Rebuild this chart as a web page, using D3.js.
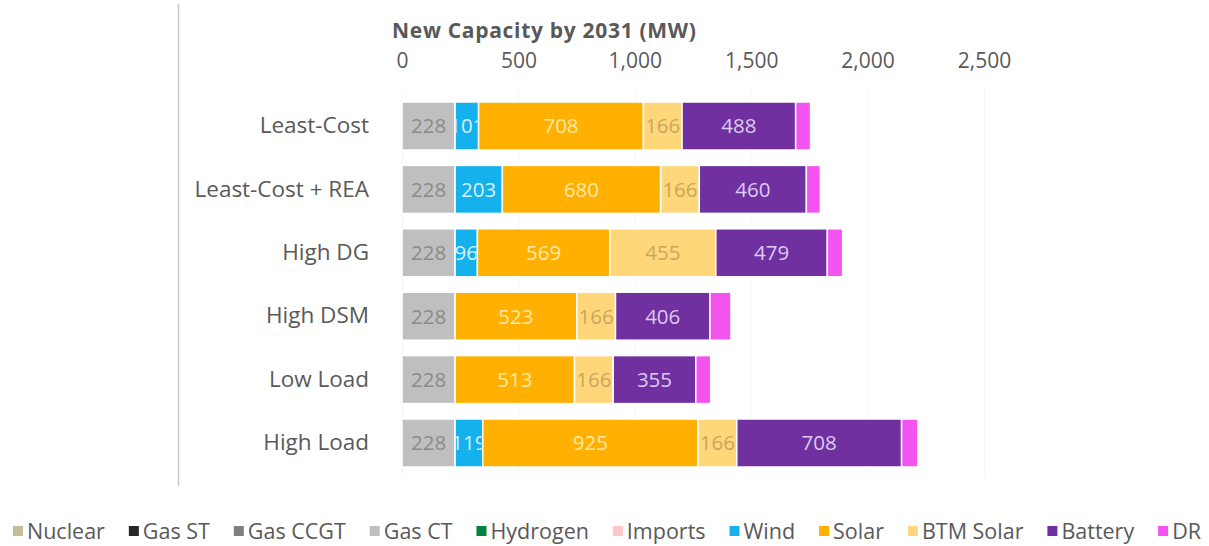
<!DOCTYPE html>
<html>
<head>
<meta charset="utf-8">
<script src="https://cdn.jsdelivr.net/npm/d3@7"></script>
<style>
  html, body { margin: 0; padding: 0; background: #ffffff; }
  svg { display: block; font-family: "Open Sans", "Segoe UI", sans-serif; }
</style>
</head>
<body>
<svg id="chart" width="1209" height="546"></svg>
<script>
// ---- Data ----
const categories = ["Least-Cost", "Least-Cost + REA", "High DG", "High DSM", "Low Load", "High Load"];
const seriesNames = ["Nuclear", "Gas ST", "Gas CCGT", "Gas CT", "Hydrogen", "Imports", "Wind", "Solar", "BTM Solar", "Battery", "DR"];
const nuclear  = [0, 0, 0, 0, 0, 0];
const gasST    = [0, 0, 0, 0, 0, 0];
const gasCCGT  = [0, 0, 0, 0, 0, 0];
const gasCT    = [228, 228, 228, 228, 228, 228];
const hydrogen = [0, 0, 0, 0, 0, 0];
const imports  = [0, 0, 0, 0, 0, 0];
const wind     = [101, 203, 96, 0, 0, 119];
const solar    = [708, 680, 569, 523, 513, 925];
const btmSolar = [166, 166, 455, 166, 166, 166];
const battery  = [488, 460, 479, 406, 355, 708];
const dr       = [64, 60, 66, 90, 64, 70];
const xTicks   = [0, 500, 1000, 1500, 2000, 2500];
const axisTitle = "New Capacity by 2031 (MW)";

const seriesValues = [nuclear, gasST, gasCCGT, gasCT, hydrogen, imports, wind, solar, btmSolar, battery, dr];
const colors = ["#c4bd97", "#262626", "#7f7f7f", "#bfbfbf", "#00843d", "#ffc7c7", "#14b1ec", "#ffb000", "#ffd77a", "#7030a0", "#f553f0"];
const labelColors = ["#6f6a50", "#cccccc", "#dddddd", "#8a8a8a", "#cfe9d8", "#b08080", "#d6f1ff", "#ffe9a8", "#c8a75c", "#dccbf2", "#ffffff"];
const showLabel = [true, true, true, true, true, true, true, true, true, true, false];

// ---- Build table ----
const table = categories.map((c, i) => {
  const row = { category: c };
  seriesNames.forEach((s, j) => { row[s] = seriesValues[j][i]; });
  return row;
});
const stacked = d3.stack().keys(seriesNames)(table);

const svg = d3.select("#chart");
const textColor = "#595959";

// Left vertical frame line
svg.append("line")
  .attr("x1", 178.5).attr("x2", 178.5)
  .attr("y1", 4).attr("y2", 486)
  .attr("stroke", "#c8c8c8").attr("stroke-width", 1.5);

const x = d3.scaleLinear().domain([0, 2500]).range([402, 984]);
const y = d3.scaleBand().domain(categories).range([94.3, 474.7]).paddingInner(0.243).paddingOuter(0.1215);

// faint gridlines
svg.append("g").selectAll("line").data(xTicks).join("line")
  .attr("x1", d => x(d) + 0.5).attr("x2", d => x(d) + 0.5)
  .attr("y1", 90).attr("y2", 476)
  .attr("stroke", "#f5f5f5").attr("stroke-width", 1);

// Top axis
const xAxis = d3.axisTop(x).tickValues(xTicks).tickFormat(d3.format(",")).tickSize(0).tickPadding(0);
const gx = svg.append("g").attr("transform", "translate(0,68)").call(xAxis);
gx.select(".domain").remove();
gx.selectAll("text")
  .attr("font-family", "Open Sans").attr("font-size", 21).attr("fill", textColor)
  .attr("dy", 0);

// Axis title
svg.append("text")
  .attr("x", 392).attr("y", 38)
  .attr("font-family", "Open Sans").attr("font-weight", "bold").attr("font-size", 21)
  .attr("letter-spacing", 0.7)
  .attr("fill", textColor)
  .text(axisTitle);

// Category axis (left)
const yAxis = d3.axisLeft(y).tickSize(0).tickPadding(0);
const gy = svg.append("g").attr("transform", "translate(369,0)").call(yAxis);
gy.select(".domain").remove();
gy.selectAll("text")
  .attr("font-family", "Open Sans").attr("font-size", 22.5).attr("fill", textColor);

// Bars
const defs = svg.append("defs");
const barsG = svg.append("g");
stacked.forEach((layer, j) => {
  const g = barsG.append("g");
  layer.forEach((seg, i) => {
    const v = seg[1] - seg[0];
    if (v <= 0) return;
    const cat = categories[i];
    const x0 = x(seg[0]), x1 = x(seg[1]);
    const yy = y(cat), h = y.bandwidth();
    g.append("rect")
      .attr("x", x0).attr("y", yy)
      .attr("width", x1 - x0).attr("height", h)
      .attr("fill", colors[j])
      .attr("stroke", "#ffffff").attr("stroke-width", 1.5);
    if (showLabel[j]) {
      const id = `clip-${j}-${i}`;
      defs.append("clipPath").attr("id", id)
        .append("rect").attr("x", x0 + 1).attr("y", yy).attr("width", Math.max(0, x1 - x0 - 2)).attr("height", h);
      g.append("text")
        .attr("clip-path", `url(#${id})`)
        .attr("x", (x0 + x1) / 2).attr("y", yy + h / 2)
        .attr("dy", "0.36em")
        .attr("text-anchor", "middle")
        .attr("font-family", "Open Sans").attr("font-size", 20.5)
        .attr("fill", labelColors[j])
        .text(d3.format(",")(v));
    }
  });
});

// Legend
const legend = svg.append("g").attr("transform", "translate(0,531)");
const items = legend.selectAll("g").data(seriesNames).join("g");
items.append("rect").attr("x", 0).attr("y", -5).attr("width", 10).attr("height", 10)
  .attr("fill", (d, j) => colors[j]);
items.append("text").attr("x", 14).attr("y", 0).attr("dy", "0.35em")
  .attr("font-family", "Open Sans").attr("font-size", 21.5).attr("fill", textColor)
  .text(d => d);
const widths = [];
items.each(function () {
  widths.push(14 + d3.select(this).select("text").node().getComputedTextLength());
});
const startX = 13, endX = 1201;
const gap = (endX - startX - d3.sum(widths)) / (widths.length - 1);
let cx = startX;
items.each(function (d, j) {
  d3.select(this).attr("transform", `translate(${cx},0)`);
  cx += widths[j] + gap;
});
</script>
</body>
</html>
